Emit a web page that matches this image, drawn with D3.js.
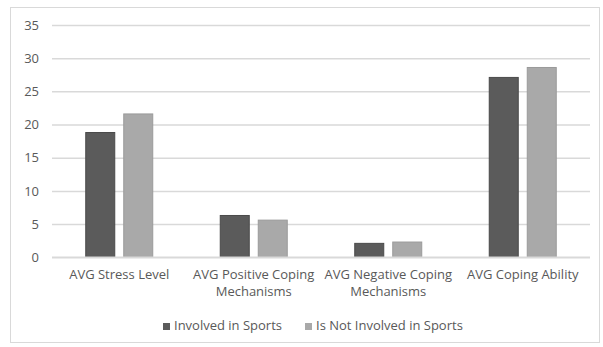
<!DOCTYPE html>
<html>
<head>
<meta charset="utf-8">
<script src="https://cdn.jsdelivr.net/npm/d3@7/dist/d3.min.js"></script>
<style>
  html, body { margin: 0; padding: 0; background: #fff; }
  svg { display: block; font-family: "Open Sans", "Liberation Sans", sans-serif; }
</style>
</head>
<body>
<svg id="chart" width="603" height="347"></svg>
<script>
// Category labels (each line drawn separately)
const categories = [
  ["AVG Stress Level"],
  ["AVG Positive Coping", "Mechanisms"],
  ["AVG Negative Coping", "Mechanisms"],
  ["AVG Coping Ability"]
];
const seriesNames = ["Involved in Sports", "Is Not Involved in Sports"];
const involved = [18.8, 6.3, 2.1, 27.1];
const notInvolved = [21.6, 5.6, 2.3, 28.6];
const yTicks = [0, 5, 10, 15, 20, 25, 30, 35];

const colors = ["#5b5b5b", "#a9a9a9"];
const strokes = ["#4a4a4a", "#9a9a9a"];
const textColor = "#595959";

const svg = d3.select("#chart");

// outer chart frame
svg.append("rect")
  .attr("x", 10.5).attr("y", 7.5)
  .attr("width", 589).attr("height", 335)
  .attr("fill", "#fff")
  .attr("stroke", "#d9d9d9").attr("stroke-width", 1);

const plot = { left: 52, right: 590, top: 25, bottom: 257.3 };

const x = d3.scaleBand()
  .domain(d3.range(categories.length))
  .range([plot.left, plot.right])
  .paddingInner(0).paddingOuter(0);

const y = d3.scaleLinear()
  .domain([0, 35])
  .range([plot.bottom, plot.top]);

// horizontal gridlines via the y axis
const yAxis = d3.axisLeft(y)
  .tickValues(yTicks)
  .tickSize(-(plot.right - plot.left))
  .tickPadding(13);

const gy = svg.append("g")
  .attr("transform", `translate(${plot.left},0)`)
  .call(yAxis);
gy.select(".domain").remove();
gy.selectAll(".tick line").attr("stroke", "#d9d9d9").attr("stroke-width", 1.5);
gy.selectAll(".tick text")
  .attr("fill", textColor)
  .attr("font-size", 13)
  .attr("font-family", "'Open Sans', sans-serif");

// bars
const barW = 29, gap = 9;
const series = [involved, notInvolved];
series.forEach((vals, s) => {
  svg.append("g").selectAll("rect")
    .data(vals)
    .join("rect")
    .attr("x", (d, i) => x(i) + x.bandwidth() / 2 - (barW * 2 + gap) / 2 + s * (barW + gap))
    .attr("y", d => y(d))
    .attr("width", barW)
    .attr("height", d => y(0) - y(d))
    .attr("fill", colors[s])
    .attr("stroke", strokes[s])
    .attr("stroke-width", 1);
});

// x axis baseline
svg.append("line")
  .attr("x1", plot.left).attr("x2", plot.right)
  .attr("y1", y(0)).attr("y2", y(0))
  .attr("stroke", "#d9d9d9").attr("stroke-width", 1.5);

// category labels
const catG = svg.append("g");
categories.forEach((lines, i) => {
  const t = catG.append("text")
    .attr("x", x(i) + x.bandwidth() / 2)
    .attr("y", 279)
    .attr("text-anchor", "middle")
    .attr("fill", textColor)
    .attr("font-size", 13);
  lines.forEach((ln, k) => {
    t.append("tspan")
      .attr("x", x(i) + x.bandwidth() / 2)
      .attr("dy", k === 0 ? 0 : 17)
      .text(ln);
  });
});

// legend
const legendItems = [
  { x: 163, name: seriesNames[0], color: colors[0] },
  { x: 305, name: seriesNames[1], color: colors[1] }
];
const lg = svg.append("g");
legendItems.forEach(it => {
  lg.append("rect")
    .attr("x", it.x).attr("y", 323)
    .attr("width", 7).attr("height", 7)
    .attr("fill", it.color);
  lg.append("text")
    .attr("x", it.x + 11).attr("y", 330)
    .attr("fill", textColor)
    .attr("font-size", 13)
    .text(it.name);
});
</script>
</body>
</html>
